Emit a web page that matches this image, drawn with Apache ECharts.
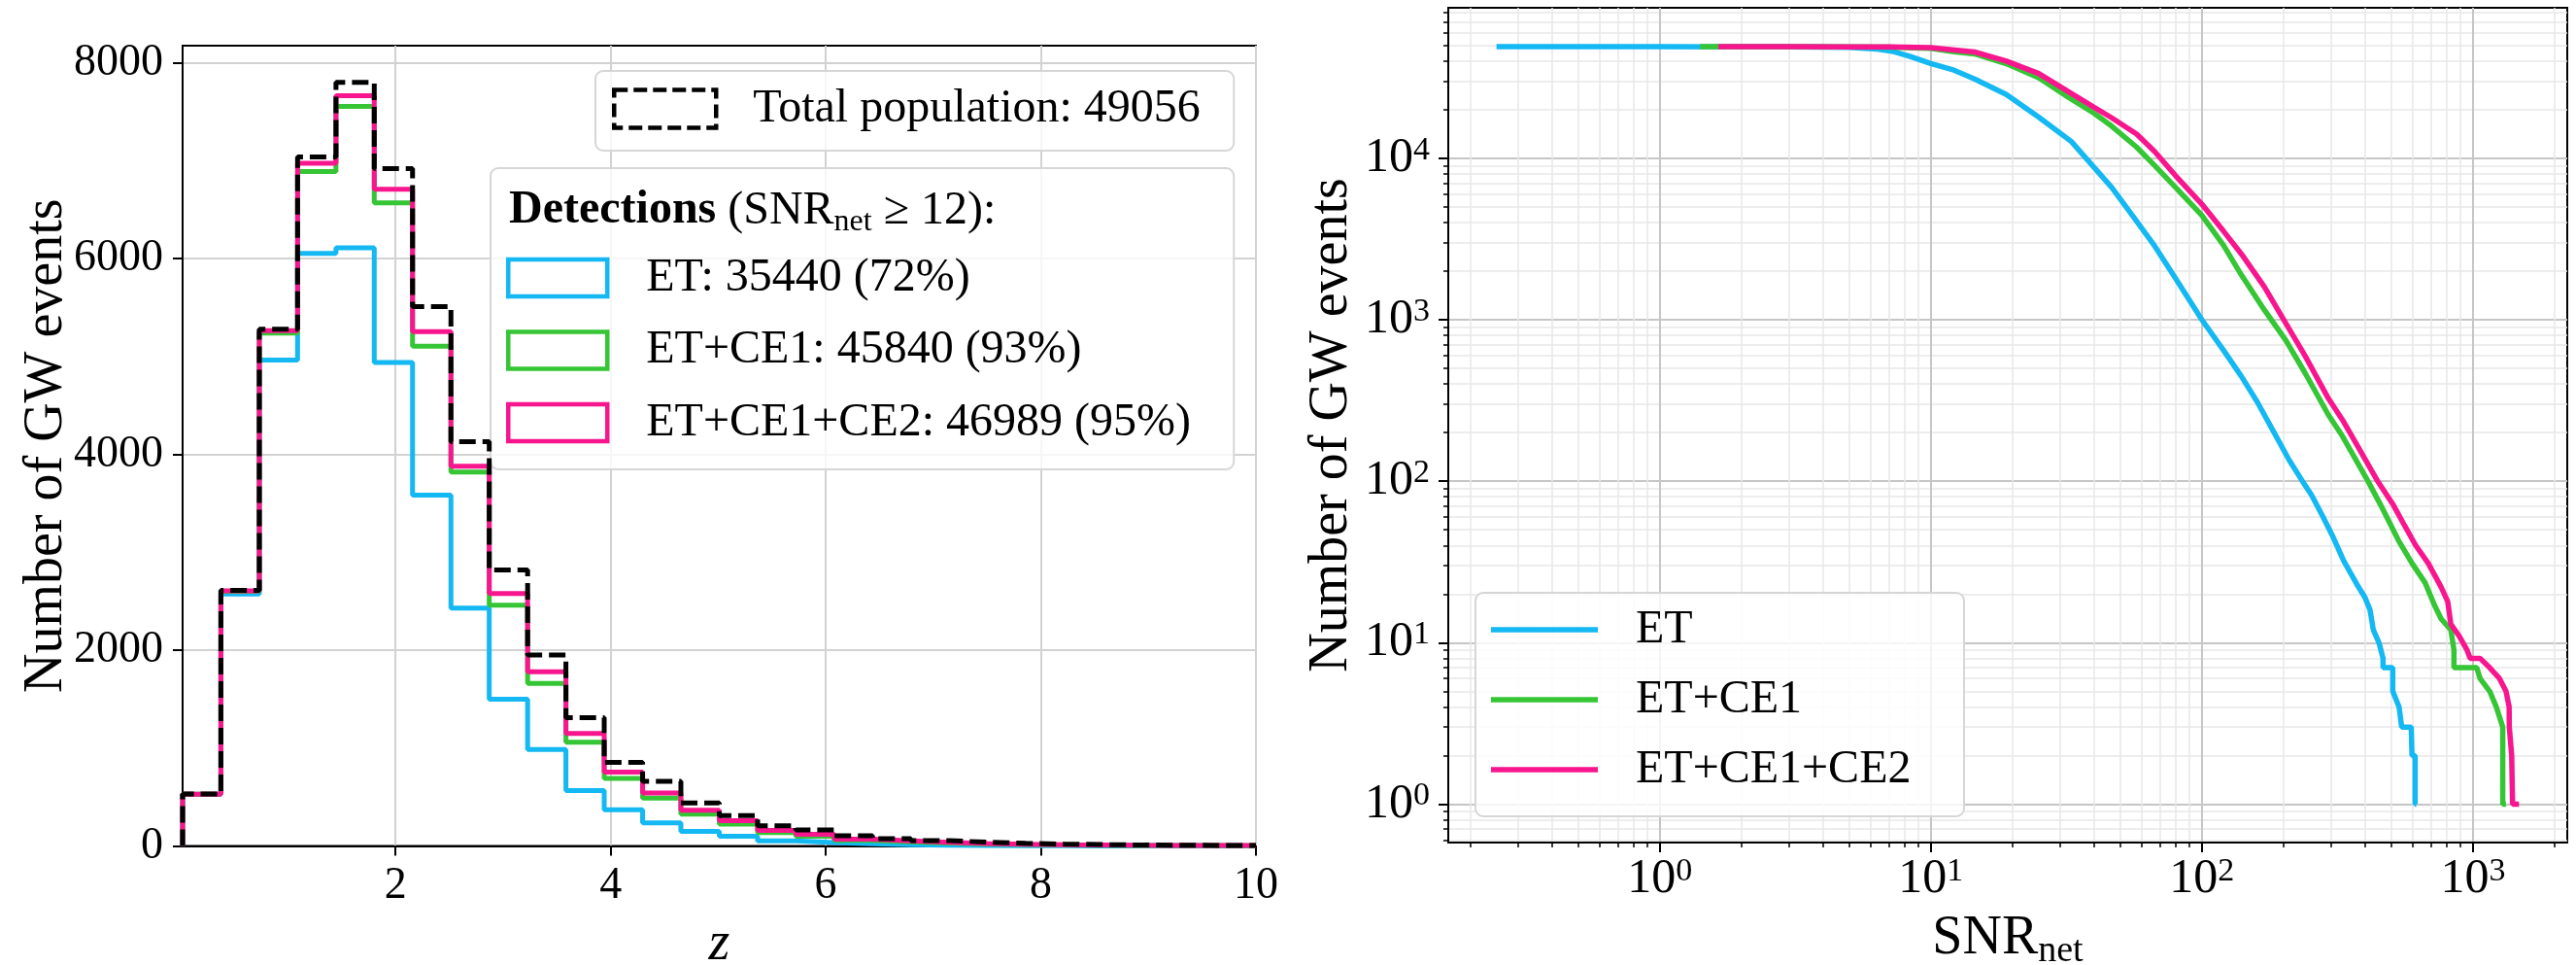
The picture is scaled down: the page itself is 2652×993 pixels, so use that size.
<!DOCTYPE html>
<html>
<head>
<meta charset="utf-8">
<script src="https://cdn.jsdelivr.net/npm/echarts@6/dist/echarts.min.js"></script>
<style>
  html, body { margin: 0; padding: 0; background: #ffffff; }
  #chart { width: 2652px; height: 993px; }
</style>
</head>
<body>
<div id="chart"></div>
<script>
// ---------- redshift histogram (left panel) ----------
const zBinEdges = [0.02, 0.376, 0.733, 1.089, 1.446, 1.802, 2.158, 2.515, 2.871, 3.228,
  3.584, 3.940, 4.297, 4.653, 5.010, 5.366, 5.722, 6.079, 6.435, 6.792,
  7.148, 7.504, 7.861, 8.217, 8.574, 8.930, 9.286, 9.643, 10.0];

const histTotal = [530, 2610, 5280, 7040, 7800, 6920, 5510, 4130, 2820, 1950,
  1310, 855, 660, 440, 310, 205, 165, 104, 75, 55, 38, 27, 19, 14, 10, 8, 6, 5];
const histETCE1CE2 = [528, 2605, 5265, 6975, 7665, 6710, 5255, 3880, 2580, 1780,
  1150, 755, 540, 365, 258, 158, 118, 70, 52, 37, 26, 18, 13, 10, 7, 6, 5, 4];
const histETCE1 = [528, 2600, 5240, 6890, 7555, 6570, 5105, 3820, 2460, 1660,
  1060, 690, 490, 325, 223, 136, 100, 58, 43, 30, 21, 15, 11, 8, 6, 5, 4, 3];
const histET = [525, 2575, 4965, 6055, 6110, 4940, 3585, 2430, 1500, 985,
  565, 370, 235, 150, 100, 52, 35, 22, 13, 8, 5, 3, 2, 1, 1, 0, 0, 0];

const populationTotal = 49056;
const networkNames = ['ET', 'ET+CE1', 'ET+CE1+CE2'];
const detectionCounts = [35440, 45840, 46989];

const zTicks = [2, 4, 6, 8, 10];
const countTicks = [0, 2000, 4000, 6000, 8000];

// ---------- cumulative SNR distributions (right panel): [SNR_net, N(>= SNR_net)] ----------
const cumET = [
  [0.25, 49056], [1, 49050], [2, 49030], [3, 48980], [4, 48850], [5, 48550], [6.35, 47400],
  [7.3, 45800], [8.4, 42700], [10, 38600], [12, 35440], [14.5, 31000], [19, 24800], [25, 18000],
  [33, 12700], [40, 8800], [46.5, 6600], [54, 4700], [67, 2860], [80, 1800], [100, 1000],
  [120, 650], [140, 445], [160, 310], [181, 213], [210, 135], [235, 100], [254, 82], [280, 60],
  [305, 45], [334, 32], [373, 23], [400, 19], [417, 16], [429, 12], [450, 10], [466, 8],
  [466, 7], [506, 7], [506, 5], [534, 4], [546, 3], [592, 3], [596, 2], [612, 2], [612, 1], [618, 1]
];
const cumETCE1 = [
  [1.41, 49056], [3, 49045], [5, 49000], [7, 48800], [10, 48000], [12, 45840], [14.5, 44300],
  [19, 38500], [25, 31500], [32, 24000], [40, 19000], [46.5, 15800], [57.5, 11700], [67, 9000],
  [80, 6600], [100, 4430], [120, 2900], [140, 1890], [170, 1150], [204, 746], [240, 470],
  [293, 257], [330, 190], [366, 140], [410, 100], [457, 71], [531, 43], [596, 31], [666, 23.5],
  [722, 17], [764, 14], [829, 12], [851, 9], [851, 7], [1033, 7], [1062, 6], [1153, 5],
  [1219, 4], [1288, 3], [1288, 1], [1324, 1]
];
const cumETCE1CE2 = [
  [1.645, 49056], [3, 49050], [5, 49010], [7, 48900], [10, 48400], [12, 46989], [14.5, 45500],
  [19, 40000], [25, 33500], [32, 26000], [40, 20700], [46.5, 17800], [57.5, 14100], [67, 11000],
  [80, 7800], [100, 5200], [120, 3550], [140, 2550], [170, 1600], [204, 950], [240, 600],
  [293, 325], [330, 240], [366, 178], [442, 102], [509, 71], [560, 53], [615, 40], [684, 31],
  [764, 22], [807, 18], [829, 13], [889, 11], [951, 9], [977, 8], [1062, 8], [1153, 7],
  [1253, 6], [1324, 5], [1360, 4], [1362, 3], [1390, 2], [1400, 1], [1479, 1]
];
const snrDecades = [1, 10, 100, 1000];
const countDecades = [1, 10, 100, 1000, 10000];

// ---------- styling ----------
const FONT = "'Liberation Serif', 'DejaVu Serif', serif";
const colET = '#14b8f2';
const colCE1 = '#35c535';
const colCE2 = '#f8168f';
const snrRange = [0.166, 2228];
const countRange = [0.578, 85500];

// outline of a histogram drawn as a stepped line from its bin edges
function stepOutline(edges, counts) {
  const pts = [[edges[0], 0]];
  counts.forEach((c, i) => pts.push([edges[i], c]));
  pts.push([edges[edges.length - 1], counts[counts.length - 1]]);
  pts.push([edges[edges.length - 1], 0]);
  return pts;
}

// 2..9 multiples of each decade inside a log range (minor ticks)
function minorLogValues(range) {
  const out = [];
  const lo = Math.floor(Math.log10(range[0]));
  const hi = Math.ceil(Math.log10(range[1]));
  for (let e = lo; e <= hi; e++) {
    for (let m = 2; m <= 9; m++) {
      const v = m * Math.pow(10, e);
      if (v > range[0] && v < range[1]) out.push(v);
    }
  }
  return out;
}

const totalName = 'Total population: ' + populationTotal;
const detectionNames = networkNames.map((n, i) =>
  n + ': ' + detectionCounts[i] + ' (' + Math.floor(100 * detectionCounts[i] / populationTotal) + '%)');

const powerRich = {
  b: { fontSize: 50, fontFamily: FONT, color: '#000', lineHeight: 50 },
  s: { fontSize: 34, fontFamily: FONT, color: '#000', lineHeight: 34, verticalAlign: 'top' }
};
const powerLabel = v => '{b|10}{s|' + Math.round(Math.log10(v)) + '}';
const plainNumber = v => String(Math.round(v));

const tickStyle = { color: '#000', width: 2 };
const spine = { show: true, onZero: false, lineStyle: { color: '#000', width: 2 } };

const chart = echarts.init(document.getElementById('chart'), null, { renderer: 'canvas' });

chart.setOption({
  animation: false,
  backgroundColor: '#ffffff',
  grid: [
    { left: 188, right: 1359, top: 47, bottom: 122.5, show: true, borderColor: '#000', borderWidth: 2,
      backgroundColor: 'transparent', containLabel: false, outerBoundsMode: 'none' },
    { left: 1491, right: 9, top: 8, bottom: 126, show: true, borderColor: '#000', borderWidth: 2,
      backgroundColor: 'transparent', containLabel: false, outerBoundsMode: 'none' }
  ],
  title: [{
    text: '{b|Detections} {r|(SNR}{s|net}{r| \u2265 12):}',
    left: 524, top: 189, padding: 0, z: 10,
    textStyle: {
      fontSize: 48, fontFamily: FONT, fontWeight: 'normal', color: '#000', lineHeight: 56,
      rich: {
        b: { fontSize: 48, fontFamily: FONT, fontWeight: 'bold', color: '#000', lineHeight: 56 },
        r: { fontSize: 48, fontFamily: FONT, fontWeight: 'normal', color: '#000', lineHeight: 56 },
        s: { fontSize: 32, fontFamily: FONT, fontWeight: 'normal', color: '#000', lineHeight: 28, verticalAlign: 'bottom' }
      }
    }
  }],
  legend: [
    {
      data: [{ name: totalName, icon: 'rect',
        itemStyle: { color: 'transparent', borderColor: '#000', borderWidth: 4.5, borderType: [14, 6] } }],
      left: 613, top: 73, orient: 'vertical', selectedMode: false, z: 5,
      padding: [14, 18, 18, 17], itemWidth: 105, itemHeight: 39,
      textStyle: { fontSize: 48, fontFamily: FONT, color: '#000', lineHeight: 50, width: 477, padding: [0, 0, 0, 33] },
      backgroundColor: 'rgba(255,255,255,0.8)', borderColor: '#d6d6d6', borderWidth: 2, borderRadius: 8
    },
    {
      data: detectionNames.map((n, i) => ({ name: n, icon: 'rect',
        itemStyle: { color: 'transparent', borderColor: [colET, colCE1, colCE2][i], borderWidth: 4.5 } })),
      left: 505, top: 173, orient: 'vertical', selectedMode: false, z: 5,
      padding: [88, 18, 23, 16], itemGap: 24.5, itemWidth: 102, itemHeight: 38,
      textStyle: { fontSize: 48, fontFamily: FONT, color: '#000', lineHeight: 50, width: 587, padding: [0, 0, 0, 35] },
      backgroundColor: 'rgba(255,255,255,0.8)', borderColor: '#d6d6d6', borderWidth: 2, borderRadius: 8
    },
    {
      data: networkNames.map(n => ({ name: n, icon: 'rect' })),
      left: 1519, top: 610, orient: 'vertical', selectedMode: false, z: 5,
      padding: [13, 18, 23, 16], itemGap: 22, itemWidth: 110, itemHeight: 5.5,
      textStyle: { fontSize: 48, fontFamily: FONT, color: '#000', lineHeight: 50, width: 320, padding: [0, 0, 0, 34] },
      backgroundColor: 'rgba(255,255,255,0.8)', borderColor: '#d6d6d6', borderWidth: 2, borderRadius: 8
    }
  ],
  xAxis: [
    {
      gridIndex: 0, type: 'value', min: zBinEdges[0], max: zBinEdges[zBinEdges.length - 1],
      axisLine: spine,
      axisTick: { show: true, customValues: zTicks, length: 10, lineStyle: tickStyle },
      axisLabel: { customValues: zTicks, margin: 18, fontSize: 46, lineHeight: 46, fontFamily: FONT, color: '#000',
        formatter: plainNumber },
      splitLine: { show: true, lineStyle: { color: '#d2d2d2', width: 2 } },
      name: 'z', nameLocation: 'middle', nameGap: 70, nameMoveOverlap: false,
      nameTextStyle: { fontSize: 56, fontStyle: 'italic', fontFamily: FONT, color: '#000', lineHeight: 64 }
    },
    {
      gridIndex: 1, type: 'log', logBase: 10, min: snrRange[0], max: snrRange[1], position: 'bottom',
      axisLine: spine,
      axisTick: { show: true, customValues: snrDecades, length: 10, lineStyle: tickStyle },
      axisLabel: { customValues: snrDecades, margin: 13, formatter: powerLabel, rich: powerRich },
      splitLine: { show: true, lineStyle: { color: '#c6c6c6', width: 2 } },
      name: '{m|SNR}{s|net}', nameLocation: 'middle', nameGap: 67, nameMoveOverlap: false,
      nameTextStyle: {
        fontSize: 56, fontFamily: FONT, color: '#000', lineHeight: 64,
        rich: {
          m: { fontSize: 56, fontFamily: FONT, color: '#000', lineHeight: 64 },
          s: { fontSize: 38, fontFamily: FONT, color: '#000', lineHeight: 32, verticalAlign: 'bottom' }
        }
      }
    },
    {
      gridIndex: 1, type: 'log', logBase: 10, min: snrRange[0], max: snrRange[1], position: 'bottom',
      axisLine: { show: false },
      axisTick: { show: true, customValues: minorLogValues(snrRange), length: 5, lineStyle: { color: '#000', width: 1.5 } },
      axisLabel: { show: false },
      splitLine: { show: true, lineStyle: { color: '#e7e7e7', width: 1.5 } }
    }
  ],
  yAxis: [
    {
      gridIndex: 0, type: 'value', min: 0, max: 8176,
      axisLine: spine,
      axisTick: { show: true, customValues: countTicks, length: 10, lineStyle: tickStyle },
      axisLabel: { customValues: countTicks, margin: 20, fontSize: 46, fontFamily: FONT, color: '#000',
        formatter: plainNumber },
      splitLine: { show: true, lineStyle: { color: '#d2d2d2', width: 2 } },
      name: 'Number of GW events', nameLocation: 'middle', nameGap: 108, nameRotate: 90, nameMoveOverlap: false,
      nameTextStyle: { fontSize: 56, fontFamily: FONT, color: '#000', lineHeight: 64 }
    },
    {
      gridIndex: 1, type: 'log', logBase: 10, min: countRange[0], max: countRange[1], position: 'left',
      axisLine: spine,
      axisTick: { show: true, customValues: countDecades, length: 10, lineStyle: tickStyle },
      axisLabel: { customValues: countDecades, margin: 19, formatter: powerLabel, rich: powerRich },
      splitLine: { show: true, lineStyle: { color: '#c6c6c6', width: 2 } },
      name: 'Number of GW events', nameLocation: 'middle', nameGap: 88, nameRotate: 90, nameMoveOverlap: false,
      nameTextStyle: { fontSize: 56, fontFamily: FONT, color: '#000', lineHeight: 64 }
    },
    {
      gridIndex: 1, type: 'log', logBase: 10, min: countRange[0], max: countRange[1], position: 'left',
      axisLine: { show: false },
      axisTick: { show: true, customValues: minorLogValues(countRange), length: 5, lineStyle: { color: '#000', width: 1.5 } },
      axisLabel: { show: false },
      splitLine: { show: true, lineStyle: { color: '#e7e7e7', width: 1.5 } }
    }
  ],
  series: [
    { name: detectionNames[0], type: 'line', xAxisIndex: 0, yAxisIndex: 0, step: 'end',
      data: stepOutline(zBinEdges, histET), symbol: 'none', z: 2,
      itemStyle: { color: colET }, lineStyle: { color: colET, width: 5 } },
    { name: detectionNames[1], type: 'line', xAxisIndex: 0, yAxisIndex: 0, step: 'end',
      data: stepOutline(zBinEdges, histETCE1), symbol: 'none', z: 3,
      itemStyle: { color: colCE1 }, lineStyle: { color: colCE1, width: 5 } },
    { name: detectionNames[2], type: 'line', xAxisIndex: 0, yAxisIndex: 0, step: 'end',
      data: stepOutline(zBinEdges, histETCE1CE2), symbol: 'none', z: 4,
      itemStyle: { color: colCE2 }, lineStyle: { color: colCE2, width: 5 } },
    { name: totalName, type: 'line', xAxisIndex: 0, yAxisIndex: 0, step: 'end',
      data: stepOutline(zBinEdges, histTotal), symbol: 'none', z: 5,
      itemStyle: { color: '#000' }, lineStyle: { color: '#000', width: 5, type: [17, 7] } },

    { name: networkNames[0], type: 'line', xAxisIndex: 1, yAxisIndex: 1, data: cumET,
      symbol: 'none', z: 2, itemStyle: { color: colET }, lineStyle: { color: colET, width: 5.5 } },
    { name: networkNames[1], type: 'line', xAxisIndex: 1, yAxisIndex: 1, data: cumETCE1,
      symbol: 'none', z: 3, itemStyle: { color: colCE1 }, lineStyle: { color: colCE1, width: 5.5 } },
    { name: networkNames[2], type: 'line', xAxisIndex: 1, yAxisIndex: 1, data: cumETCE1CE2,
      symbol: 'none', z: 4, itemStyle: { color: colCE2 }, lineStyle: { color: colCE2, width: 5.5 } }
  ]
});
</script>
</body>
</html>
